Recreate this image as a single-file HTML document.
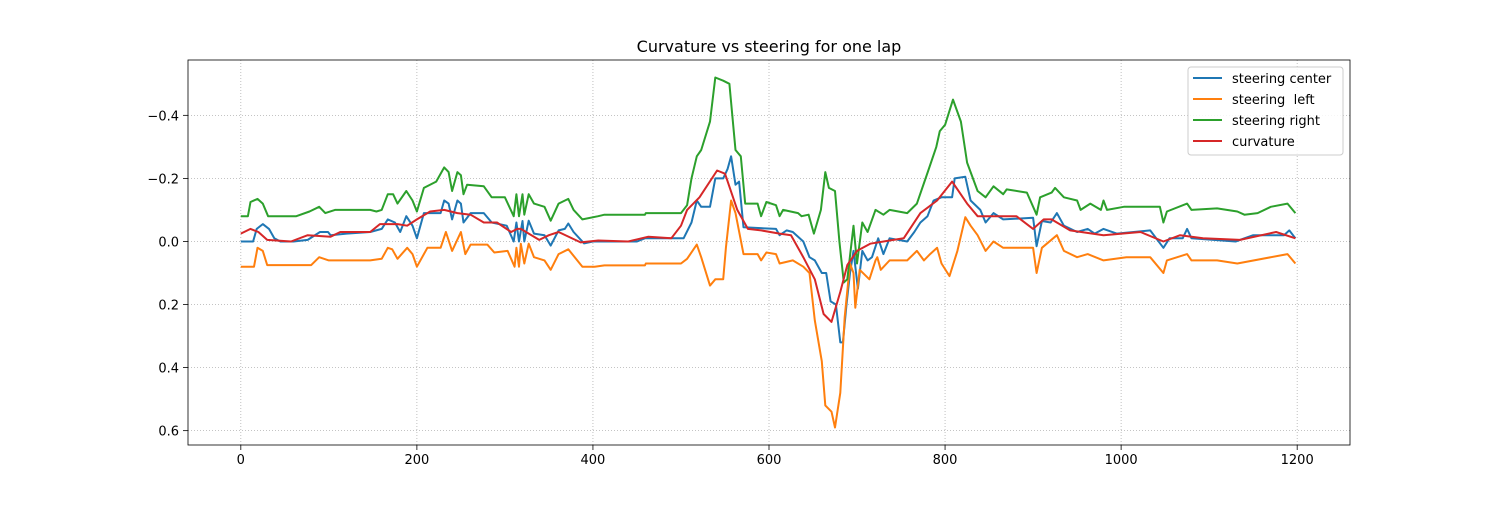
<!DOCTYPE html>
<html><head><meta charset="utf-8"><style>
body{margin:0;background:#fff;font-family:"Liberation Sans","DejaVu Sans",sans-serif}
svg text{font-family:"DejaVu Sans","Liberation Sans",sans-serif}
</style></head><body>
<svg id="chart" width="1500" height="500" xmlns="http://www.w3.org/2000/svg">
<rect width="1500" height="500" fill="#fff"/>
<text x="769" y="52" font-size="16" text-anchor="middle">Curvature vs steering for one lap</text>
<g id="grid"></g><g id="series"></g><g id="axes"></g>
<g>
<rect x="1188" y="67" width="155" height="88" rx="3" fill="#fff" fill-opacity="0.85" stroke="#ccc"/>
<line x1="1193" y1="78" x2="1222" y2="78" stroke="#1f77b4" stroke-width="2"/><text x="1232" y="83" font-size="13">steering center</text>
<line x1="1193" y1="99" x2="1222" y2="99" stroke="#ff7f0e" stroke-width="2"/><text x="1232" y="104" font-size="13" xml:space="preserve">steering  left</text>
<line x1="1193" y1="120" x2="1222" y2="120" stroke="#2ca02c" stroke-width="2"/><text x="1232" y="125" font-size="13">steering right</text>
<line x1="1193" y1="141" x2="1222" y2="141" stroke="#d62728" stroke-width="2"/><text x="1232" y="146" font-size="13">curvature</text>
</g>
</svg>
<script>
const xTicks=[0,200,400,600,800,1000,1200];
const yTicks=[-0.4,-0.2,0.0,0.2,0.4,0.6];
const yTickLabels=["\u22120.4","\u22120.2","0.0","0.2","0.4","0.6"];
const center=[[0,0],[14,0],[18,-0.04],[25,-0.055],[32,-0.04],[38,-0.01],[45,0],[60,0],[76,-0.005],[90,-0.03],[99,-0.03],[102,-0.02],[120,-0.025],[147,-0.03],[160,-0.04],[167,-0.07],[175,-0.06],[181,-0.03],[188,-0.08],[195,-0.05],[200,-0.01],[208,-0.09],[227,-0.09],[231,-0.13],[236,-0.12],[240,-0.07],[246,-0.13],[250,-0.12],[253,-0.06],[261,-0.09],[276,-0.09],[285,-0.06],[302,-0.05],[310,0],[313,-0.06],[316,0],[320,-0.065],[322,0],[327,-0.066],[333,-0.025],[345,-0.02],[352,0.013],[361,-0.035],[368,-0.04],[372,-0.057],[378,-0.03],[390,0.006],[400,0],[450,0],[459,-0.01],[503,-0.01],[512,-0.06],[518,-0.13],[523,-0.11],[533,-0.11],[539,-0.2],[548,-0.2],[553,-0.23],[557,-0.27],[562,-0.18],[566,-0.19],[571,-0.045],[608,-0.04],[612,-0.02],[620,-0.035],[627,-0.03],[639,0],[646,0.05],[652,0.06],[660,0.1],[665,0.1],[670,0.19],[676,0.2],[681,0.32],[684,0.32],[688,0.2],[692,0.1],[696,0.03],[701,0.15],[706,0.03],[712,0.06],[717,0.05],[724,-0.01],[730,0.04],[737,-0.01],[757,0],[765,-0.03],[772,-0.06],[780,-0.08],[787,-0.13],[796,-0.14],[808,-0.14],[811,-0.2],[823,-0.205],[829,-0.13],[840,-0.1],[846,-0.06],[855,-0.09],[866,-0.07],[900,-0.075],[904,0.015],[910,-0.065],[920,-0.06],[927,-0.09],[935,-0.05],[950,-0.03],[962,-0.04],[970,-0.025],[980,-0.04],[995,-0.025],[1033,-0.035],[1048,0.02],[1055,-0.01],[1070,-0.01],[1075,-0.04],[1080,-0.01],[1130,0],[1150,-0.02],[1185,-0.02],[1191,-0.035],[1198,-0.01]];
const left=[[0,0.08],[15,0.08],[19,0.02],[25,0.03],[30,0.075],[80,0.075],[89,0.05],[100,0.06],[147,0.06],[160,0.055],[167,0.02],[172,0.025],[178,0.055],[189,0.02],[195,0.04],[200,0.08],[212,0.02],[227,0.02],[233,-0.03],[240,0.03],[250,-0.03],[255,0.04],[261,0.01],[280,0.01],[288,0.035],[303,0.03],[311,0.08],[313,0.02],[316,0.08],[318,0.007],[322,0.07],[327,0.007],[333,0.05],[345,0.06],[352,0.09],[361,0.04],[372,0.025],[388,0.08],[402,0.08],[413,0.076],[459,0.076],[460,0.07],[500,0.07],[507,0.055],[518,0.01],[523,0.05],[533,0.14],[539,0.12],[548,0.12],[551,0.02],[557,-0.13],[562,-0.09],[571,0.04],[587,0.04],[591,0.06],[597,0.035],[608,0.04],[612,0.07],[627,0.06],[639,0.08],[646,0.1],[652,0.25],[660,0.38],[664,0.52],[671,0.54],[675,0.59],[681,0.48],[686,0.24],[692,0.07],[696,0.1],[698,0.21],[703,0.09],[714,0.12],[721,0.06],[723,0.05],[727,0.09],[737,0.06],[757,0.06],[768,0.03],[776,0.06],[783,0.04],[791,0.02],[796,0.07],[805,0.11],[814,0.03],[823,-0.077],[829,-0.05],[837,-0.02],[846,0.03],[855,0],[866,0.02],[900,0.02],[904,0.1],[910,0.02],[927,-0.02],[935,0.03],[950,0.05],[962,0.04],[980,0.06],[1006,0.05],[1033,0.05],[1048,0.1],[1052,0.06],[1075,0.04],[1080,0.06],[1109,0.06],[1132,0.07],[1189,0.04],[1198,0.07]];
const right=[[0,-0.08],[8,-0.08],[11,-0.125],[19,-0.135],[25,-0.12],[31,-0.08],[63,-0.08],[78,-0.095],[89,-0.11],[96,-0.09],[107,-0.1],[147,-0.1],[154,-0.095],[160,-0.1],[167,-0.15],[173,-0.15],[178,-0.12],[188,-0.16],[195,-0.13],[200,-0.095],[208,-0.17],[222,-0.19],[231,-0.235],[236,-0.22],[240,-0.16],[246,-0.22],[250,-0.21],[253,-0.15],[257,-0.18],[276,-0.175],[285,-0.14],[300,-0.14],[310,-0.08],[313,-0.15],[316,-0.08],[320,-0.15],[322,-0.085],[327,-0.15],[333,-0.12],[345,-0.11],[352,-0.066],[361,-0.12],[372,-0.135],[378,-0.1],[388,-0.07],[406,-0.08],[413,-0.085],[459,-0.085],[460,-0.09],[500,-0.09],[507,-0.115],[512,-0.2],[518,-0.27],[523,-0.29],[533,-0.38],[539,-0.52],[548,-0.51],[555,-0.5],[562,-0.29],[568,-0.27],[573,-0.12],[587,-0.12],[591,-0.08],[597,-0.125],[608,-0.115],[612,-0.08],[616,-0.1],[633,-0.09],[637,-0.08],[645,-0.085],[651,-0.025],[659,-0.1],[664,-0.22],[668,-0.17],[675,-0.16],[680,0],[685,0.13],[689,0.12],[696,-0.05],[700,0.07],[706,-0.06],[712,-0.03],[721,-0.1],[730,-0.085],[737,-0.1],[757,-0.09],[768,-0.12],[781,-0.225],[790,-0.3],[794,-0.35],[800,-0.37],[809,-0.45],[818,-0.38],[825,-0.25],[837,-0.16],[846,-0.14],[855,-0.175],[866,-0.15],[870,-0.165],[893,-0.155],[904,-0.085],[908,-0.14],[921,-0.155],[925,-0.17],[935,-0.14],[950,-0.13],[954,-0.1],[965,-0.12],[977,-0.1],[980,-0.13],[984,-0.1],[1003,-0.11],[1044,-0.11],[1048,-0.06],[1052,-0.095],[1075,-0.12],[1080,-0.1],[1109,-0.105],[1132,-0.095],[1140,-0.085],[1155,-0.09],[1170,-0.11],[1189,-0.12],[1198,-0.09]];
const curvature=[[0,-0.025],[11,-0.04],[20,-0.03],[30,-0.005],[57,0],[76,-0.02],[102,-0.015],[113,-0.03],[147,-0.03],[158,-0.055],[178,-0.055],[189,-0.05],[200,-0.07],[215,-0.095],[231,-0.1],[246,-0.09],[261,-0.085],[276,-0.06],[291,-0.06],[307,-0.03],[314,-0.04],[318,-0.04],[339,-0.005],[350,-0.02],[361,-0.03],[386,0.003],[406,-0.003],[440,0],[463,-0.015],[489,-0.01],[500,-0.05],[507,-0.1],[521,-0.14],[541,-0.225],[550,-0.215],[564,-0.1],[576,-0.04],[591,-0.035],[612,-0.025],[625,-0.02],[639,0.05],[652,0.12],[662,0.23],[671,0.255],[681,0.16],[689,0.075],[700,0.03],[715,0.007],[737,-0.003],[753,-0.01],[772,-0.09],[791,-0.13],[808,-0.19],[825,-0.12],[837,-0.08],[881,-0.08],[900,-0.04],[912,-0.07],[921,-0.07],[942,-0.035],[980,-0.02],[1022,-0.03],[1048,0],[1067,-0.02],[1093,-0.01],[1135,-0.005],[1176,-0.03],[1198,-0.01]];

const L=188,R=1350,T=60,B=445,XMIN=-60,XMAX=1260,YMIN=-0.5755,YMAX=0.6455;
const sx=v=>L+(v-XMIN)/(XMAX-XMIN)*(R-L);
const sy=v=>T+(v-YMIN)/(YMAX-YMIN)*(B-T);
const NS="http://www.w3.org/2000/svg";
const grid=document.getElementById('grid'),axes=document.getElementById('axes'),ser=document.getElementById('series');
function mk(tag,attrs,parent){const e=document.createElementNS(NS,tag);for(const k in attrs)e.setAttribute(k,attrs[k]);parent.appendChild(e);return e;}
xTicks.forEach(t=>{
  const x=sx(t);
  const g=mk('line',{x1:x,y1:T,x2:x,y2:B,stroke:'#b0b0b0','stroke-dasharray':'1,2','stroke-width':0.8},grid);
  
  
  mk('line',{x1:x,y1:B,x2:x,y2:B+5,stroke:'#000','stroke-width':0.8},axes);
  const tx=mk('text',{x:x,y:B+19,'font-size':13,'text-anchor':'middle'},axes);
  tx.textContent=String(t);
  
  
});
yTicks.forEach((t,i)=>{
  const y=sy(t);
  const g=mk('line',{x1:L,y1:y,x2:R,y2:y,stroke:'#b0b0b0','stroke-dasharray':'1,2','stroke-width':0.8},grid);
  
  
  mk('line',{x1:L-5,y1:y,x2:L,y2:y,stroke:'#000','stroke-width':0.8},axes);
  const tx=mk('text',{x:L-9,y:y+5,'font-size':13,'text-anchor':'end'},axes);
  tx.textContent=yTickLabels[i];
  
  
});
const frame=mk('rect',{x:L,y:T,width:R-L,height:B-T,fill:'none',stroke:'#000','stroke-width':0.8},axes);


function line(data,color,name){
  const p=mk('polyline',{points:data.map(d=>sx(d[0]).toFixed(1)+','+sy(d[1]).toFixed(1)).join(' '),fill:'none',stroke:color,'stroke-width':2,'stroke-linejoin':'round'},ser);
  
  
}
line(center,'#1f77b4','series-steering-center');
line(left,'#ff7f0e','series-steering-left');
line(right,'#2ca02c','series-steering-right');
line(curvature,'#d62728','series-curvature');
</script>
</body></html>
